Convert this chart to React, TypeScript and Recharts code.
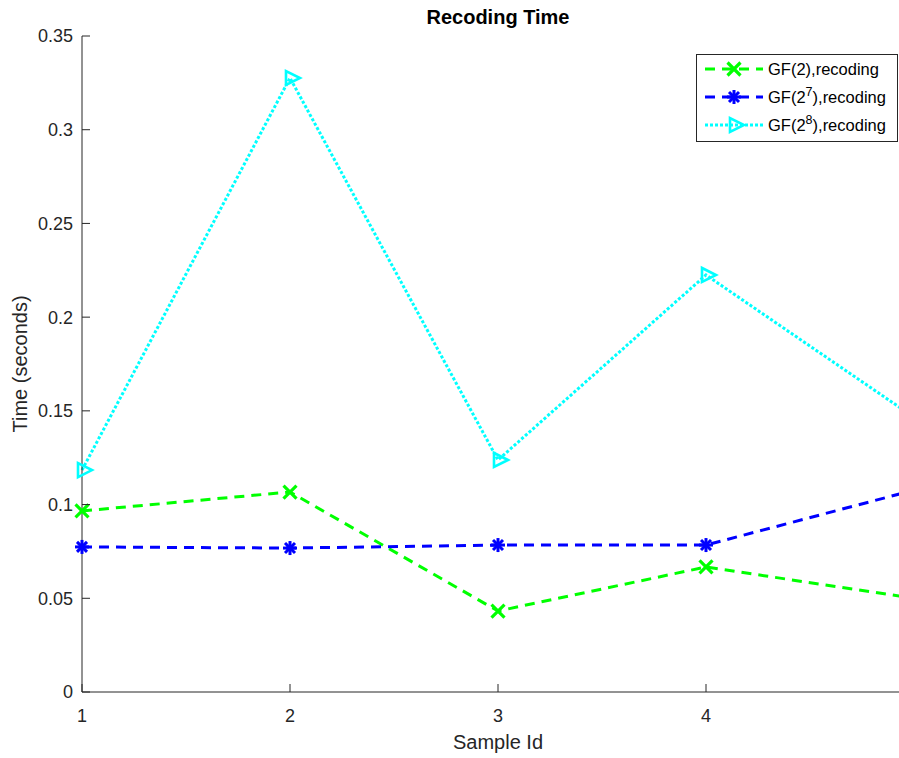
import React from 'react';
import { LineChart, Line, XAxis, YAxis, Label } from 'recharts';

const sampleIds = [1, 2, 3, 4, 5];
const gf2Recoding = [0.0966, 0.1067, 0.0432, 0.0667, 0.05];
const gf27Recoding = [0.0774, 0.0768, 0.0784, 0.0784, 0.1077];
const gf28Recoding = [0.1184, 0.3276, 0.1238, 0.2225, 0.1466];
const xTicks = [1, 2, 3, 4];
const yTicks = [0, 0.05, 0.1, 0.15, 0.2, 0.25, 0.3, 0.35];

const data = sampleIds.map((id, i) => ({
  id,
  gf2: gf2Recoding[i],
  gf27: gf27Recoding[i],
  gf28: gf28Recoding[i],
}));

const FONT = '"Liberation Sans", Arial, Helvetica, sans-serif';
const AXIS = '#262626';
const GREEN = '#00ff00';
const BLUE = '#0000ff';
const CYAN = '#00ffff';

const CrossMarker = ({ cx, cy }: any) => {
  const s = 6.5;
  return (
    <g>
      <line x1={cx - s} y1={cy - s} x2={cx + s} y2={cy + s} stroke={GREEN} strokeWidth={3.2} />
      <line x1={cx - s} y1={cy + s} x2={cx + s} y2={cy - s} stroke={GREEN} strokeWidth={3.2} />
    </g>
  );
};

const StarMarker = ({ cx, cy }: any) => {
  const s = 7;
  const d = 5;
  return (
    <g>
      <line x1={cx - s} y1={cy} x2={cx + s} y2={cy} stroke={BLUE} strokeWidth={3} />
      <line x1={cx} y1={cy - s} x2={cx} y2={cy + s} stroke={BLUE} strokeWidth={3} />
      <line x1={cx - d} y1={cy - d} x2={cx + d} y2={cy + d} stroke={BLUE} strokeWidth={3} />
      <line x1={cx - d} y1={cy + d} x2={cx + d} y2={cy - d} stroke={BLUE} strokeWidth={3} />
    </g>
  );
};

const TriMarker = ({ cx, cy }: any) => (
  <polygon
    points={`${cx - 4},${cy - 7} ${cx - 4},${cy + 7} ${cx + 10},${cy}`}
    fill="none"
    stroke={CYAN}
    strokeWidth={2.6}
    strokeLinejoin="miter"
  />
);

const makeDot = (Comp: any) => (props: any) => {
  const { cx, cy, index } = props;
  if (cx == null || cy == null) return <g key={`d-${index}`} />;
  return (
    <g key={`d-${index}`}>
      <Comp cx={cx} cy={cy} />
    </g>
  );
};

const fmt = (v: number) => String(Number(v.toFixed(2)));

const XTick = ({ x, y, payload }: any) => (
  <g>
    <line x1={x} x2={x} y1={y} y2={y - 8} stroke={AXIS} strokeWidth={1} />
    <text x={x} y={y + 30} textAnchor="middle" fill={AXIS} fontSize={18} fontFamily={FONT}>
      {payload.value}
    </text>
  </g>
);

const YTick = ({ x, y, payload }: any) => (
  <g>
    <line x1={x} x2={x + 8} y1={y} y2={y} stroke={AXIS} strokeWidth={1} />
    <text x={x - 9} y={y} dy="0.36em" textAnchor="end" fill={AXIS} fontSize={18} fontFamily={FONT}>
      {fmt(payload.value)}
    </text>
  </g>
);

const YLabel = ({ viewBox }: any) => {
  const cx = viewBox.x + 27;
  const cy = viewBox.y + viewBox.height / 2;
  return (
    <text
      x={cx}
      y={cy}
      transform={`rotate(-90 ${cx} ${cy})`}
      textAnchor="middle"
      fill={AXIS}
      fontSize={20}
      fontFamily={FONT}
    >
      Time (seconds)
    </text>
  );
};

const XLabel = ({ viewBox }: any) => (
  <text
    x={viewBox.x + viewBox.width / 2}
    y={viewBox.y + 57}
    textAnchor="middle"
    fill={AXIS}
    fontSize={20}
    fontFamily={FONT}
  >
    Sample Id
  </text>
);

const LegendBox = () => {
  const rows = [
    { y: 15, color: GREEN, dash: '10 7', Marker: CrossMarker, sup: null as string | null, base: 'GF(2),recoding' },
    { y: 43, color: BLUE, dash: '10 7', Marker: StarMarker, sup: '7', base: '' },
    { y: 71, color: CYAN, dash: '3 2', Marker: TriMarker, sup: '8', base: '' },
  ];
  return (
    <svg
      width={202}
      height={88}
      style={{ position: 'absolute', left: 696, top: 54 }}
    >
      <rect x={0.5} y={0.5} width={201} height={87} fill="#ffffff" stroke={AXIS} strokeWidth={1} />
      {rows.map((r, i) => (
        <g key={i}>
          <line x1={9} x2={67} y1={r.y} y2={r.y} stroke={r.color} strokeWidth={3} strokeDasharray={r.dash} />
          <r.Marker cx={38} cy={r.y} />
          {r.sup ? (
            <text x={72} y={r.y} dy="0.36em" fontSize={16.5} fontFamily={FONT} fill="#000">
              GF(2
              <tspan dy={-7} fontSize={12.5}>
                {r.sup}
              </tspan>
              <tspan dy={7}>),recoding</tspan>
            </text>
          ) : (
            <text x={72} y={r.y} dy="0.36em" fontSize={16.5} fontFamily={FONT} fill="#000">
              {r.base}
            </text>
          )}
        </g>
      ))}
    </svg>
  );
};

export default function App() {
  return (
    <div
      style={{
        position: 'absolute',
        left: 0,
        top: 0,
        width: 899,
        height: 758,
        overflow: 'hidden',
        background: '#ffffff',
        fontFamily: FONT,
      }}
    >
      <LineChart width={914} height={758} data={data} margin={{ top: 36, right: 0, bottom: 0, left: 0 }}>
        <XAxis
          dataKey="id"
          type="number"
          domain={[1, 5]}
          ticks={xTicks}
          height={66}
          tickSize={0}
          tickMargin={0}
          tickLine={false}
          tick={<XTick />}
          axisLine={{ stroke: AXIS, strokeWidth: 1 }}
          interval={0}
        >
          <Label content={<XLabel />} />
        </XAxis>
        <YAxis
          type="number"
          domain={[0, 0.35]}
          ticks={yTicks}
          width={82}
          tickSize={0}
          tickMargin={0}
          tickLine={false}
          tick={<YTick />}
          axisLine={{ stroke: AXIS, strokeWidth: 1 }}
          interval={0}
        >
          <Label content={<YLabel />} />
        </YAxis>
        <Line
          dataKey="gf2"
          stroke={GREEN}
          strokeWidth={3}
          strokeDasharray="10 7"
          dot={makeDot(CrossMarker)}
          activeDot={false}
          isAnimationActive={false}
          type="linear"
        />
        <Line
          dataKey="gf27"
          stroke={BLUE}
          strokeWidth={3}
          strokeDasharray="10 7"
          dot={makeDot(StarMarker)}
          activeDot={false}
          isAnimationActive={false}
          type="linear"
        />
        <Line
          dataKey="gf28"
          stroke={CYAN}
          strokeWidth={3}
          strokeDasharray="3 2"
          dot={makeDot(TriMarker)}
          activeDot={false}
          isAnimationActive={false}
          type="linear"
        />
      </LineChart>
      <div
        style={{
          position: 'absolute',
          left: 82,
          width: 832,
          top: 5,
          textAlign: 'center',
          fontSize: 20,
          lineHeight: '24px',
          fontWeight: 'bold',
          color: '#000',
          fontFamily: FONT,
        }}
      >
        Recoding Time
      </div>
      <LegendBox />
    </div>
  );
}
